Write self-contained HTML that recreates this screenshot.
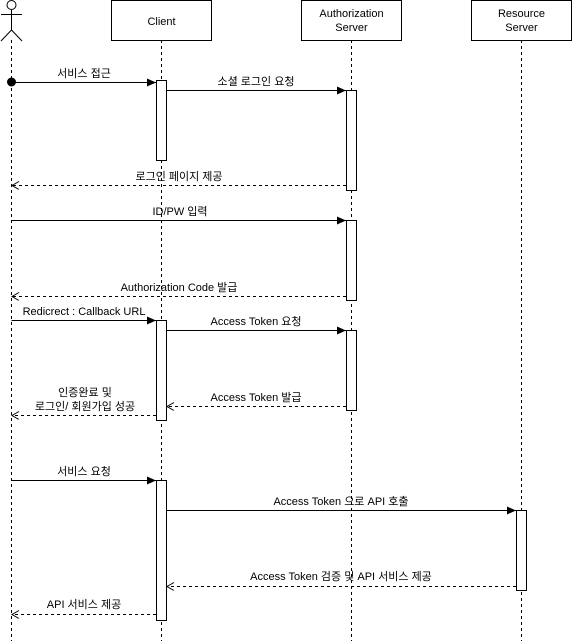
<!DOCTYPE html>
<html><head><meta charset="utf-8"><style>
html,body{margin:0;padding:0;background:#fff;}
svg{display:block;}
text{font-family:"Liberation Sans","Noto Sans CJK KR",sans-serif;font-size:11px;fill:#000;}
</style></head><body>
<svg width="572" height="641" viewBox="0 0 572 641" xmlns="http://www.w3.org/2000/svg">
<defs>
<marker id="f" markerWidth="10" markerHeight="10" refX="9" refY="4" orient="auto" markerUnits="userSpaceOnUse"><path d="M0,0 L9,4 L0,8 z" fill="#000"/></marker>
<marker id="o" markerWidth="10" markerHeight="10" refX="8" refY="4" orient="auto" markerUnits="userSpaceOnUse"><path d="M1,0 L8,4 L1,8" fill="none" stroke="#000"/></marker>
</defs>
<g stroke="#000" stroke-width="1" fill="none">
<line x1="11.5" y1="40" x2="11.5" y2="641" stroke-dasharray="3,3"/>
<line x1="161.5" y1="40" x2="161.5" y2="641" stroke-dasharray="3,3"/>
<line x1="351.5" y1="40" x2="351.5" y2="641" stroke-dasharray="3,3"/>
<line x1="521.5" y1="40" x2="521.5" y2="641" stroke-dasharray="3,3"/>
<circle cx="11.5" cy="5" r="4.5" fill="#fff"/>
<line x1="11.5" y1="10" x2="11.5" y2="30"/>
<line x1="1" y1="14.5" x2="22" y2="14.5"/>
<line x1="11.5" y1="30" x2="1" y2="41"/>
<line x1="11.5" y1="30" x2="22" y2="41"/>
<rect x="111.5" y="0.5" width="100" height="40" fill="#fff"/>
<rect x="301.5" y="0.5" width="100" height="40" fill="#fff"/>
<rect x="471.5" y="0.5" width="100" height="40" fill="#fff"/>
<rect x="156.5" y="80.5" width="10" height="80" fill="#fff"/>
<rect x="346.5" y="90.5" width="10" height="100" fill="#fff"/>
<rect x="346.5" y="220.5" width="10" height="80" fill="#fff"/>
<rect x="156.5" y="320.5" width="10" height="100" fill="#fff"/>
<rect x="346.5" y="330.5" width="10" height="80" fill="#fff"/>
<rect x="156.5" y="480.5" width="10" height="140" fill="#fff"/>
<rect x="516.5" y="510.5" width="10" height="80" fill="#fff"/>
<circle cx="11.5" cy="82" r="4" fill="#000"/>
<line x1="11.5" y1="82.5" x2="156" y2="82.5" marker-end="url(#f)"/>
<line x1="167" y1="90.5" x2="346" y2="90.5" marker-end="url(#f)"/>
<line x1="346" y1="185.5" x2="12" y2="185.5" stroke-dasharray="3,3" marker-end="url(#o)"/>
<line x1="11.5" y1="220.5" x2="346" y2="220.5" marker-end="url(#f)"/>
<line x1="346" y1="296.5" x2="12" y2="296.5" stroke-dasharray="3,3" marker-end="url(#o)"/>
<line x1="11.5" y1="320.5" x2="156" y2="320.5" marker-end="url(#f)"/>
<line x1="167" y1="330.5" x2="346" y2="330.5" marker-end="url(#f)"/>
<line x1="346" y1="406.5" x2="167" y2="406.5" stroke-dasharray="3,3" marker-end="url(#o)"/>
<line x1="156" y1="415.5" x2="12" y2="415.5" stroke-dasharray="3,3" marker-end="url(#o)"/>
<line x1="11.5" y1="480.5" x2="156" y2="480.5" marker-end="url(#f)"/>
<line x1="167" y1="510.5" x2="516" y2="510.5" marker-end="url(#f)"/>
<line x1="516" y1="586.5" x2="167" y2="586.5" stroke-dasharray="3,3" marker-end="url(#o)"/>
<line x1="156" y1="614.5" x2="12" y2="614.5" stroke-dasharray="3,3" marker-end="url(#o)"/>
</g>
<g text-anchor="middle">
<text x="161.5" y="25">Client</text>
<text x="351.5" y="17">Authorization</text>
<text x="351.5" y="31">Server</text>
<text x="521.5" y="17">Resource</text>
<text x="521.5" y="31">Server</text>
<text x="84" y="77">서비스 접근</text>
<text x="256" y="85">소셜 로그인 요청</text>
<text x="179" y="180">로그인 페이지 제공</text>
<text x="180" y="215">ID/PW 입력</text>
<text x="179" y="291">Authorization Code 발급</text>
<text x="84" y="315">Redicrect : Callback URL</text>
<text x="256" y="325">Access Token 요청</text>
<text x="256" y="401">Access Token 발급</text>
<text x="85" y="396">인증완료 및</text>
<text x="85" y="410">로그인/ 회원가입 성공</text>
<text x="84" y="475">서비스 요청</text>
<text x="341" y="505">Access Token 으로 API 호출</text>
<text x="341" y="580">Access Token 검증 및 API 서비스 제공</text>
<text x="84" y="608">API 서비스 제공</text>
</g>
</svg>
</body></html>
